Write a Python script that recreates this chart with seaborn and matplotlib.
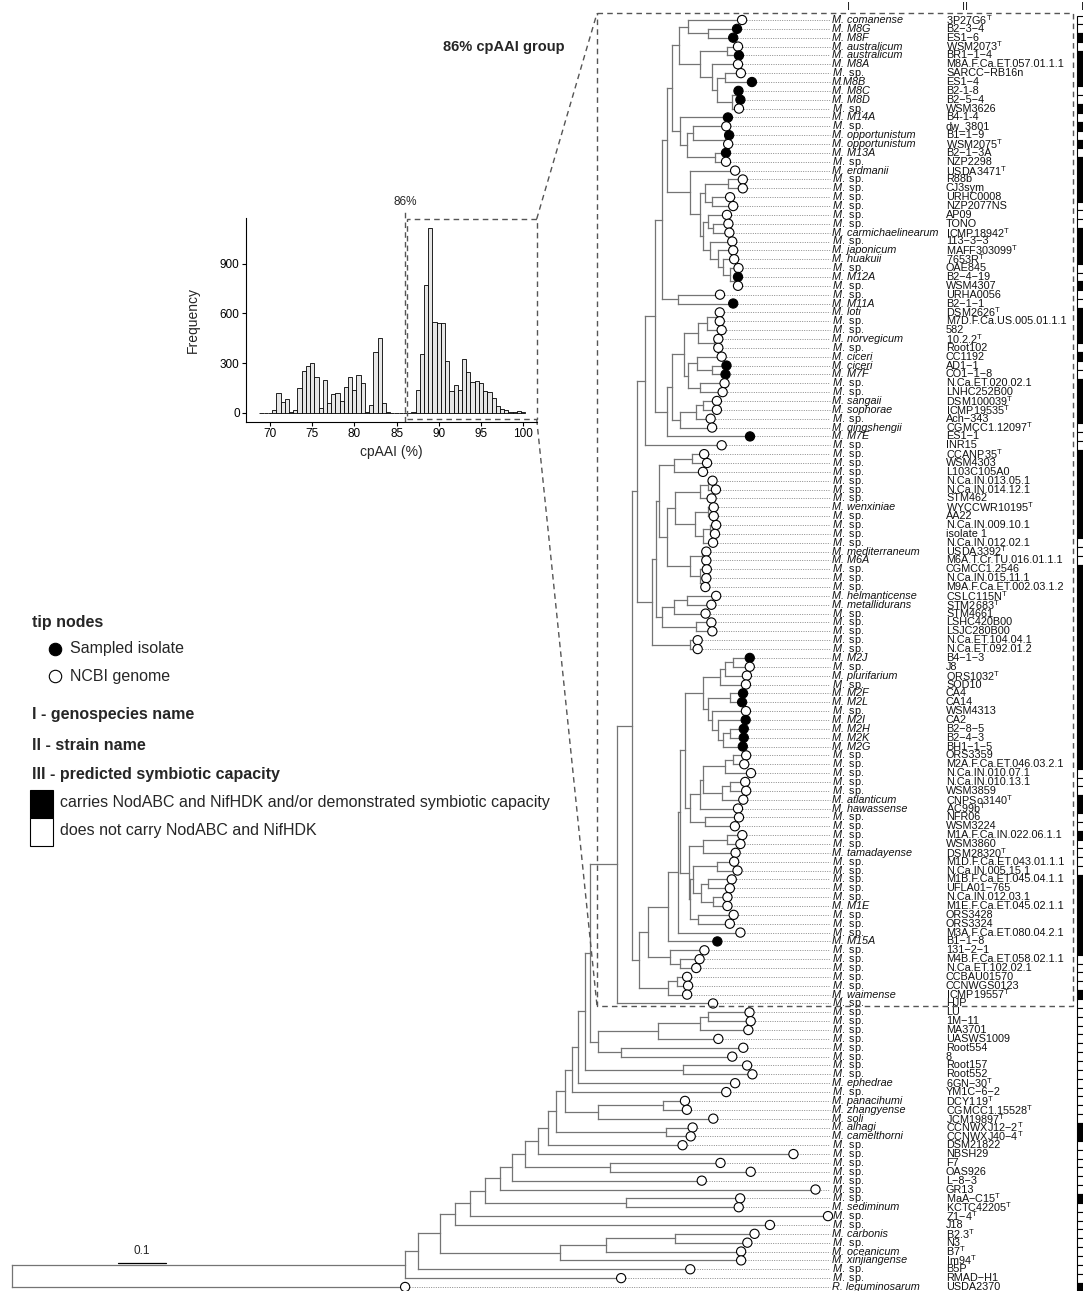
import matplotlib
matplotlib.use("Agg")
import numpy as np
import pandas as pd
import matplotlib.pyplot as plt
from matplotlib.collections import LineCollection
from matplotlib.patches import Rectangle
import seaborn as sns

sns.set_theme(style="white")
plt.rcParams["font.family"] = ["Liberation Sans", "DejaVu Sans"]
plt.rcParams.update({
    "mathtext.fontset": "custom",
    "mathtext.rm": "Liberation Sans",
    "mathtext.it": "Liberation Sans:italic",
    "mathtext.bf": "Liberation Sans:bold",
})

# ---------------------------------------------------------------- tip data
genospecies = [
    "M. comanense", "M. M8G", "M. M8F", "M. australicum", "M. australicum",
    "M. M8A", "M. sp.", "M.M8B", "M. M8C", "M. M8D",
    "M. sp.", "M. M14A", "M. sp.", "M. opportunistum", "M. opportunistum",
    "M. M13A", "M. sp.", "M. erdmanii", "M. sp.", "M. sp.",
    "M. sp.", "M. sp.", "M. sp.", "M. sp.", "M. carmichaelinearum",
    "M. sp.", "M. japonicum", "M. huakuii", "M. sp.", "M. M12A",
    "M. sp.", "M. sp.", "M. M11A", "M. loti", "M. sp.",
    "M. sp.", "M. norvegicum", "M. sp.", "M. ciceri", "M. ciceri",
    "M. M7F", "M. sp.", "M. sp.", "M. sangaii", "M. sophorae",
    "M. sp.", "M. qingshengii", "M. M7E", "M. sp.", "M. sp.",
    "M. sp.", "M. sp.", "M. sp.", "M. sp.", "M. sp.",
    "M. wenxiniae", "M. sp.", "M. sp.", "M. sp.", "M. sp.",
    "M. mediterraneum", "M. M6A", "M. sp.", "M. sp.", "M. sp.",
    "M. helmanticense", "M. metallidurans", "M. sp.", "M. sp.", "M. sp.",
    "M. sp.", "M. sp.", "M. M2J", "M. sp.", "M. plurifarium",
    "M. sp.", "M. M2F", "M. M2L", "M. sp.", "M. M2I",
    "M. M2H", "M. M2K", "M. M2G", "M. sp.", "M. sp.",
    "M. sp.", "M. sp.", "M. sp.", "M. atlanticum", "M. hawassense",
    "M. sp.", "M. sp.", "M. sp.", "M. sp.", "M. tamadayense",
    "M. sp.", "M. sp.", "M. sp.", "M. sp.", "M. sp.",
    "M. M1E", "M. sp.", "M. sp.", "M. sp.", "M. M15A",
    "M. sp.", "M. sp.", "M. sp.", "M. sp.", "M. sp.",
    "M. waimense", "M. sp.", "M. sp.", "M. sp.", "M. sp.",
    "M. sp.", "M. sp.", "M. sp.", "M. sp.", "M. sp.",
    "M. ephedrae", "M. sp.", "M. panacihumi", "M. zhangyense", "M. soli",
    "M. alhagi", "M. camelthorni", "M. sp.", "M. sp.", "M. sp.",
    "M. sp.", "M. sp.", "M. sp.", "M. sp.", "M. sediminum",
    "M. sp.", "M. sp.", "M. carbonis", "M. sp.", "M. oceanicum",
    "M. xinjiangense", "M. sp.", "M. sp.", "R. leguminosarum",
]

strain = [
    "3P27G6ᵀ", "B2−3−4", "ES1−6", "WSM2073ᵀ", "BR1−1−4",
    "M8A.F.Ca.ET.057.01.1.1", "SARCC−RB16n", "ES1−4", "B2-1-8", "B2−5−4",
    "WSM3626", "B4-1-4", "dw_3801", "B1−1−9", "WSM2075ᵀ",
    "B2−1−3A", "NZP2298", "USDA3471ᵀ", "R88b", "CJ3sym",
    "URHC0008", "NZP2077NS", "AP09", "TONO", "ICMP18942ᵀ",
    "113−3−3", "MAFF303099ᵀ", "7653Rᵀ", "OAE845", "B2−4−19",
    "WSM4307", "URHA0056", "B2−1−1", "DSM2626ᵀ", "M7D.F.Ca.US.005.01.1.1",
    "582", "10.2.2ᵀ", "Root102", "CC1192", "AD1−1",
    "CO1−1−8", "N.Ca.ET.020.02.1", "LNHC252B00", "DSM100039ᵀ", "ICMP19535ᵀ",
    "Ach−343", "CGMCC1.12097ᵀ", "ES1−1", "INR15", "CCANP35ᵀ",
    "WSM4303", "L103C105A0", "N.Ca.IN.013.05.1", "N.Ca.IN.014.12.1", "STM462",
    "WYCCWR10195ᵀ", "AA22", "N.Ca.IN.009.10.1", "isolate 1", "N.Ca.IN.012.02.1",
    "USDA3392ᵀ", "M6A.T.Cr.TU.016.01.1.1", "CGMCC1.2546", "N.Ca.IN.015.11.1", "M9A.F.Ca.ET.002.03.1.2",
    "CSLC115Nᵀ", "STM2683ᵀ", "STM4661", "LSHC420B00", "LSJC280B00",
    "N.Ca.ET.104.04.1", "N.Ca.ET.092.01.2", "B4−1−3", "J8", "ORS1032ᵀ",
    "SOD10", "CA4", "CA14", "WSM4313", "CA2",
    "B2−8−5", "B2−4−3", "BH1−1−5", "ORS3359", "M2A.F.Ca.ET.046.03.2.1",
    "N.Ca.IN.010.07.1", "N.Ca.IN.010.13.1", "WSM3859", "CNPSo3140ᵀ", "AC99bᵀ",
    "NFR06", "WSM3224", "M1A.F.Ca.IN.022.06.1.1", "WSM3860", "DSM28320ᵀ",
    "M1D.F.Ca.ET.043.01.1.1", "N.Ca.IN.005.15.1", "M1B.F.Ca.ET.045.04.1.1", "UFLA01−765", "N.Ca.IN.012.03.1",
    "M1E.F.Ca.ET.045.02.1.1", "ORS3428", "ORS3324", "M3A.F.Ca.ET.080.04.2.1", "B1−1−8",
    "131−2−1", "M4B.F.Ca.ET.058.02.1.1", "N.Ca.ET.102.02.1", "CCBAU01570", "CCNWGS0123",
    "ICMP19557ᵀ", "HJP", "LU", "1M−11", "MA3701",
    "UASWS1009", "Root554", "8", "Root157", "Root552",
    "6GN−30ᵀ", "YM1C−6−2", "DCY119ᵀ", "CGMCC1.15528ᵀ", "JCM19897ᵀ",
    "CCNWXJ12−2ᵀ", "CCNWXJ40−4ᵀ", "DSM21822", "NBSH29", "F7",
    "OAS926", "L−8−3", "GR13", "MaA−C15ᵀ", "KCTC42205ᵀ",
    "Z1−4ᵀ", "J18", "B2.3ᵀ", "N3", "B7ᵀ",
    "Im94ᵀ", "B5P", "RMAD−H1", "USDA2370",
]

# 1 = isolate sampled in this study, 0 = genome from NCBI
sampled = [
    0, 1, 1, 0, 1, 0, 0, 1, 1, 1,
    0, 1, 0, 1, 0, 1, 0, 0, 0, 0,
    0, 0, 0, 0, 0, 0, 0, 0, 0, 1,
    0, 0, 1, 0, 0, 0, 0, 0, 0, 1,
    1, 0, 0, 0, 0, 0, 0, 1, 0, 0,
    0, 0, 0, 0, 0, 0, 0, 0, 0, 0,
    0, 0, 0, 0, 0, 0, 0, 0, 0, 0,
    0, 0, 1, 0, 0, 0, 1, 1, 0, 1,
    1, 1, 1, 0, 0, 0, 0, 0, 0, 0,
    0, 0, 0, 0, 0, 0, 0, 0, 0, 0,
    0, 0, 0, 0, 1, 0, 0, 0, 0, 0,
    0, 0, 0, 0, 0, 0, 0, 0, 0, 0,
    0, 0, 0, 0, 0, 0, 0, 0, 0, 0,
    0, 0, 0, 0, 0, 0, 0, 0, 0, 0,
    0, 0, 0, 0,
]

# 1 = carries NodABC and NifHDK and/or demonstrated symbiosis
symbiotic = [
    0, 0, 1, 0, 1, 1, 1, 1, 0, 0,
    1, 0, 1, 0, 1, 0, 1, 1, 1, 1,
    1, 0, 0, 0, 1, 1, 1, 1, 0, 0,
    1, 0, 0, 1, 1, 1, 1, 0, 1, 0,
    0, 1, 1, 1, 1, 1, 0, 0, 0, 1,
    1, 1, 1, 1, 1, 1, 1, 1, 1, 0,
    0, 0, 1, 1, 1, 1, 1, 1, 1, 1,
    1, 1, 1, 1, 1, 1, 1, 1, 1, 1,
    1, 1, 1, 1, 1, 0, 0, 0, 1, 1,
    0, 0, 1, 0, 0, 0, 0, 1, 1, 1,
    1, 1, 1, 1, 1, 1, 0, 0, 0, 0,
    1, 0, 0, 0, 0, 0, 0, 0, 0, 0,
    0, 0, 0, 0, 0, 1, 1, 0, 0, 0,
    0, 0, 0, 1, 0, 0, 0, 0, 0, 0,
    0, 0, 0, 1,
]

# ---------------------------------------------------------------- tree
# internal node -> ordered children with branch lengths (substitutions/site);
# integer children are tips, numbered as in the lists above
tree = {
    "root": [("MESO", 0.819), (144, 0.819)],
    "MESO": [("A1", 0.027), (143, 0.450)],
    "A1": [("A2", 0.046), (142, 0.567)],
    "A2": [("A3", 0.031), ("XO", 0.250)],
    "XO": [("CNO", 0.096), (141, 0.377)],
    "CNO": [("CN", 0.144), (140, 0.281)],
    "CN": [(138, 0.165), (139, 0.150)],
    "A3": [("A4", 0.031), (137, 0.656)],
    "A4": [("A5", 0.031), (136, 0.746)],
    "A5": [("A6", 0.031), ("MS", 0.294)],
    "MS": [(134, 0.238), (135, 0.235)],
    "A6": [("A7", 0.025), (133, 0.658)],
    "A7": [("A8", 0.027), (132, 0.396)],
    "A8": [("A9", 0.027), ("FO", 0.177)],
    "FO": [(130, 0.231), (131, 0.294)],
    "A9": [("A10", 0.021), (129, 0.533)],
    "A10": [("A11", 0.017), (128, 0.281)],
    "A11": [("A12", 0.019), ("AC", 0.229)],
    "AC": [(126, 0.056), (127, 0.052)],
    "A12": [("A13", 0.015), ("PZS", 0.069)],
    "PZS": [("PZ", 0.135), (125, 0.240)],
    "PZ": [(123, 0.046), (124, 0.050)],
    "A13": [("A14", 0.0125), (122, 0.321)],
    "A14": [("A15", 0.015), (121, 0.327)],
    "A15": [("A16", 0.010), ("RR", 0.204)],
    "RR": [(119, 0.133), (120, 0.144)],
    "A16": [("BOX", 0.056), ("LUG", 0.017)],
    "LUG": [("LUA", 0.125), ("R8", 0.048)],
    "LUA": [("LUB", 0.0875), (116, 0.125)],
    "LUB": [("LU1", 0.015), (115, 0.100)],
    "LU1": [(113, 0.0875), (114, 0.090)],
    "R8": [(117, 0.254), (118, 0.231)],
    "BOX": [("B1", 0.031), (112, 0.200)],
    "B1": [("B2", 0.010), ("B3", 0.015)],
    "B2": [("T1", 0.017), ("T2", 0.031)],
    "T1": [("T1a", 0.021), (49, 0.160)],
    "T1a": [("U1", 0.015), ("U2", 0.025)],
    "U1": [("U1a", 0.010), ("UM", 0.033)],
    "UM": [(32, 0.0875), (33, 0.115)],
    "U1a": [("G12", 0.010), ("G3", 0.048)],
    "G12": [("G1", 0.015), ("G2", 0.017)],
    "G1": [("G1a", 0.019), ("G1b", 0.044)],
    "G1a": [(1, 0.1125), ("M8GF", 0.042)],
    "M8GF": [(2, 0.060), (3, 0.052)],
    "G1b": [("AUS", 0.056), ("G1c", 0.025)],
    "AUS": [(4, 0.023), (5, 0.025)],
    "G1c": [(6, 0.054), ("G1d", 0.010)],
    "G1d": [("SB", 0.017), ("G1e", 0.031)],
    "SB": [(7, 0.033), (8, 0.056)],
    "G1e": [("CD", 0.010), (11, 0.015)],
    "CD": [(9, 0.004), (10, 0.008)],
    "G2": [(12, 0.100), ("G2a", 0.015)],
    "G2a": [("G2b", 0.0125), ("G2c", 0.058)],
    "G2b": [(13, 0.069), ("OPP", 0.067)],
    "OPP": [(14, 0.008), (15, 0.006)],
    "G2c": [(16, 0.023), (17, 0.023)],
    "G3": [(18, 0.094), ("G3b", 0.021)],
    "G3b": [("G3d", 0.010), ("G3c", 0.006)],
    "G3d": [("RC", 0.048), ("UN", 0.015)],
    "RC": [(19, 0.031), (20, 0.031)],
    "UN": [(21, 0.0375), (22, 0.044)],
    "G3c": [("ATC", 0.010), ("JH", 0.015)],
    "ATC": [(23, 0.040), ("TC", 0.010)],
    "TC": [(24, 0.033), (25, 0.035)],
    "JH": [(26, 0.046), ("JH1", 0.017)],
    "JH1": [(27, 0.031), ("JH2", 0.010)],
    "JH2": [(28, 0.023), ("JH3", 0.015)],
    "JH3": [(29, 0.017), ("MW", 0.010)],
    "MW": [(30, 0.006), (31, 0.006)],
    "U2": [("U2a", 0.010), (48, 0.173)],
    "U2a": [("U2b", 0.025), ("U2c", 0.017)],
    "U2b": [("U2d", 0.029), ("U2e", 0.008)],
    "U2d": [("X1", 0.019), ("X2", 0.035)],
    "X1": [("LM", 0.021), (36, 0.031)],
    "LM": [(34, 0.006), (35, 0.006)],
    "X2": [(37, 0.008), (38, 0.008)],
    "U2e": [("CIC", 0.019), ("EL", 0.025)],
    "CIC": [(39, 0.052), ("AM", 0.031)],
    "AM": [(40, 0.031), (41, 0.029)],
    "EL": [(42, 0.052), (43, 0.048)],
    "U2c": [("Y", 0.033), (47, 0.067)],
    "Y": [("SS", 0.015), (46, 0.031)],
    "SS": [(44, 0.029), (45, 0.029)],
    "T2": [("T2a", 0.010), ("ETP", 0.079)],
    "ETP": [(71, 0.017), (72, 0.017)],
    "T2a": [("T2b", 0.006), ("T2c", 0.0125)],
    "T2b": [("CWL", 0.031), ("T2d", 0.017)],
    "CWL": [("CW", 0.0375), (52, 0.060)],
    "CW": [(50, 0.025), (51, 0.031)],
    "T2d": [("T2e", 0.015), ("T2f", 0.046)],
    "T2e": [("Z1", 0.052), ("Z2", 0.042)],
    "Z1": [("NN", 0.017), (55, 0.025)],
    "NN": [(53, 0.010), (54, 0.017)],
    "Z2": [("WA", 0.027), ("NI", 0.017)],
    "WA": [(56, 0.0125), (57, 0.0125)],
    "NI": [("N9I", 0.015), (60, 0.021)],
    "N9I": [(58, 0.0125), (59, 0.010)],
    "T2f": [("MM", 0.027), ("CNM", 0.021)],
    "MM": [(61, 0.008), (62, 0.008)],
    "CNM": [(63, 0.015), ("NM", 0.010)],
    "NM": [(64, 0.004), (65, 0.002)],
    "T2c": [("HMS", 0.025), ("LL", 0.071)],
    "HMS": [("HM", 0.027), (68, 0.065)],
    "HM": [(66, 0.060), (67, 0.050)],
    "LL": [(69, 0.031), (70, 0.033)],
    "B3": [("B4", 0.019), ("CCG", 0.060)],
    "CCG": [("CC", 0.019), (111, 0.040)],
    "CC": [(109, 0.021), (110, 0.023)],
    "B4": [("B5", 0.042), ("G106", 0.046)],
    "G106": [(106, 0.071), ("ME", 0.021)],
    "ME": [(107, 0.040), (108, 0.033)],
    "B5": [("T3", 0.019), (105, 0.102)],
    "T3": [("T3a", 0.006), (104, 0.131)],
    "T3a": [("T3b", 0.010), ("T3c", 0.017)],
    "T3b": [("T3d", 0.0375), ("T3e", 0.010)],
    "T3d": [("P1", 0.035), ("P2", 0.010)],
    "P1": [("P1a", 0.010), (76, 0.054)],
    "P1a": [("MJ", 0.017), (75, 0.046)],
    "MJ": [(73, 0.035), (74, 0.035)],
    "P2": [("FL", 0.046), ("P3", 0.008)],
    "FL": [(77, 0.027), (78, 0.025)],
    "P3": [(79, 0.071), ("P4", 0.0125)],
    "P4": [(80, 0.058), ("P5", 0.010)],
    "P5": [("HK", 0.015), (83, 0.042)],
    "HK": [(81, 0.029), (82, 0.029)],
    "T3e": [("Q1", 0.021), ("NW", 0.031)],
    "Q1": [("Q2", 0.006), (90, 0.079)],
    "Q2": [("Q3", 0.046), ("Q4", 0.040)],
    "Q3": [("OM", 0.017), (86, 0.054)],
    "OM": [(84, 0.027), (85, 0.023)],
    "Q4": [("NW2", 0.017), (89, 0.044)],
    "NW2": [(87, 0.031), (88, 0.033)],
    "NW": [(91, 0.071), (92, 0.0625)],
    "T3c": [("W1", 0.031), ("W2", 0.004)],
    "W1": [("MW3", 0.050), (95, 0.067)],
    "MW3": [(93, 0.031), (94, 0.027)],
    "W2": [("W3", 0.006), ("OO", 0.015)],
    "W3": [("MN", 0.050), ("W4", 0.015)],
    "MN": [(96, 0.035), (97, 0.042)],
    "W4": [("MU", 0.015), ("NM1", 0.025)],
    "MU": [(98, 0.050), (99, 0.046)],
    "NM1": [(100, 0.031), (101, 0.031)],
    "OO": [(102, 0.075), (103, 0.067)],
}

# ---------------------------------------------------------------- cpAAI histogram
bin_edges = [68.75 + 0.5 * k for k in range(64)]
pair_counts = [
    0, 0, 0, 16, 120, 62, 80, 6, 16, 150,
    250, 285, 302, 217, 28, 195, 56, 116, 120, 72,
    153, 217, 137, 225, 181, 4, 44, 368, 449, 56,
    5, 0, 0, 0, 0, 0, 3, 135, 355, 770,
    1117, 549, 539, 539, 310, 131, 165, 137, 324, 247,
    183, 189, 181, 129, 123, 89, 42, 24, 14, 4,
    4, 8, 3,
]
group_cutoff = 86

# ---------------------------------------------------------------- layout helpers
W, H = 1083, 1291
PX_UNIT = 480.0          # pixels per substitution/site
ROOT_PX = 12.0
ROW0, ROW = 20.0, 8.86   # first tip row and row pitch in pixels


def px_x(px):
    return (px - ROOT_PX) / PX_UNIT


def px_y(py):
    return (py - ROW0) / ROW


node_x, node_y, segments, order = {}, {}, [], []


def place(node, x):
    node_x[node] = x
    if node not in tree:
        node_y[node] = float(len(order))
        order.append(node)
        return node_y[node]
    ys = []
    for child, length in tree[node]:
        cx = x + length
        cy = place(child, cx)
        segments.append([(x, cy), (cx, cy)])
        ys.append(cy)
    segments.append([(x, ys[0]), (x, ys[-1])])
    node_y[node] = (ys[0] + ys[-1]) / 2.0
    return node_y[node]


place("root", 0.0)

tips = pd.DataFrame({
    "tip": np.arange(1, len(strain) + 1),
    "genospecies": genospecies,
    "strain": strain,
    "sampled": sampled,
    "symbiotic": symbiotic,
})
tips["x"] = tips["tip"].map(node_x)
tips["y"] = tips["tip"].map(node_y)
tips["source"] = np.where(tips["sampled"] == 1, "Sampled isolate", "NCBI genome")

# ---------------------------------------------------------------- figure
fig = plt.figure(figsize=(W / 100, H / 100), dpi=100)
ax = fig.add_axes([0, 0, 1, 1])
ax.set_facecolor("none")

ax.add_collection(LineCollection(segments, colors="#747474", linewidths=0.9,
                                 capstyle="projecting", zorder=2))

LABEL_X = px_x(832)
STRAIN_X = px_x(946)
ax.hlines(tips["y"], tips["x"], px_x(830), colors="#8a8a8a",
          linestyles=(0, (1.0, 1.4)), linewidth=0.7, zorder=1)

sns.scatterplot(data=tips, x="x", y="y", hue="source",
                palette={"Sampled isolate": "black", "NCBI genome": "white"},
                edgecolor="black", linewidth=0.8, s=44, legend=False,
                ax=ax, zorder=4)


def species_text(name):
    genus, _, epithet = name.partition(" ")
    if epithet == "sp.":
        return r"$\mathit{" + genus + r"}$ sp.", "normal"
    return name, "italic"


def strain_text(s):
    return s.replace("ᵀ", r"$^{\mathrm{T}}$")


TIP_FS = 7.8
for _, r in tips.iterrows():
    label, style = species_text(r["genospecies"])
    ax.text(LABEL_X, r["y"], label, fontsize=TIP_FS, style=style,
            ha="left", va="center", color="#111111")
    ax.text(STRAIN_X, r["y"], strain_text(r["strain"]), fontsize=TIP_FS,
            ha="left", va="center", color="#111111")

# column III: predicted symbiotic capacity
cell_colors = np.where(tips["symbiotic"] == 1, "black", "white")
ax.barh(tips["y"], 0.06, left=px_x(1077), height=1.0, color=cell_colors,
        edgecolor="black", linewidth=0.8, zorder=3)

for txt, px in [("I", 848), ("II", 965), ("III", 1086)]:
    ax.text(px_x(px), px_y(7), txt, fontsize=8, ha="center", va="center")

# scale bar
sb_y = px_y(1263)
ax.plot([px_x(118), px_x(118) + 0.1], [sb_y, sb_y], color="black", lw=0.9)
ax.text(px_x(118) + 0.05, px_y(1251), "0.1", fontsize=8.5, ha="center", va="center")

ax.set_xlim(px_x(0), px_x(W))
ax.set_ylim(px_y(H), px_y(0))
ax.axis("off")

# ---------------------------------------------------------------- annotation layer (pixel space)
ov = fig.add_axes([0, 0, 1, 1], facecolor="none")
ov.set_xlim(0, W)
ov.set_ylim(H, 0)
ov.axis("off")

dash = (0, (4, 3))
dash_col = "#555555"
ov.add_patch(Rectangle((597, 13.3), 1072.7 - 597, 1005.7 - 13.3, fill=False,
                       ls=dash, ec=dash_col, lw=1.0))
ov.plot([536.7, 597], [219, 13.3], ls=dash, color=dash_col, lw=1.0)
ov.plot([536.7, 597], [419.3, 1005.7], ls=dash, color=dash_col, lw=1.0)
ov.text(443, 47, "86% cpAAI group", fontsize=10.5, weight="bold", ha="left", va="center")

ov.text(32, 622, "tip nodes", fontsize=11.5, weight="bold", ha="left", va="center")
ov.scatter([55], [649], s=80, c="black", edgecolors="black", linewidths=0.8)
ov.scatter([55], [676], s=80, c="white", edgecolors="black", linewidths=0.8)
ov.text(70, 649, "Sampled isolate", fontsize=11.5, ha="left", va="center")
ov.text(70, 676, "NCBI genome", fontsize=11.5, ha="left", va="center")
ov.text(32, 714, "I - genospecies name", fontsize=11.5, weight="bold", ha="left", va="center")
ov.text(32, 745, "II - strain name", fontsize=11.5, weight="bold", ha="left", va="center")
ov.text(32, 775, "III - predicted symbiotic capacity", fontsize=11.5, weight="bold",
        ha="left", va="center")
ov.add_patch(Rectangle((30, 790), 23, 27.5, fc="black", ec="black", lw=0.8))
ov.add_patch(Rectangle((30, 817.5), 23, 28, fc="white", ec="black", lw=0.8))
ov.text(60, 803, "carries NodABC and NifHDK and/or demonstrated symbiotic capacity",
        fontsize=11.5, ha="left", va="center")
ov.text(60, 831, "does not carry NodABC and NifHDK", fontsize=11.5, ha="left", va="center")

# ---------------------------------------------------------------- histogram inset
hl, hr, ht, hb = 246, 536.7, 218.3, 421.7
axh = fig.add_axes([hl / W, 1 - hb / H, (hr - hl) / W, (hb - ht) / H], facecolor="none")
hist_df = pd.DataFrame({
    "cpAAI": [(a + b) / 2 for a, b in zip(bin_edges[:-1], bin_edges[1:])],
    "pairs": pair_counts,
})
sns.histplot(data=hist_df, x="cpAAI", weights="pairs", bins=bin_edges, ax=axh,
             color="#e6e6e6", edgecolor="black", linewidth=0.6, alpha=1)
axh.set_xlim(67.16, 101.6)
axh.set_ylim(-54, 1173)
axh.set_xticks([70, 75, 80, 85, 90, 95, 100])
axh.set_yticks([0, 300, 600, 900])
axh.tick_params(labelsize=8.5, length=3, width=0.8, pad=1.5, left=True, bottom=True,
                colors="black")
for side in ["top", "right"]:
    axh.spines[side].set_visible(False)
for side in ["left", "bottom"]:
    axh.spines[side].set_color("black")
    axh.spines[side].set_linewidth(0.8)
axh.set_xlabel("cpAAI (%)", fontsize=10)
axh.set_ylabel("Frequency", fontsize=10)
axh.xaxis.set_label_coords(0.5, (hb - 445) / (hb - ht))
axh.yaxis.set_label_coords((200 - hl) / (hr - hl), 0.5)

axh.plot([group_cutoff, group_cutoff], [-54, 1227], ls=dash, color=dash_col, lw=1.0,
         clip_on=False)
axh.text(group_cutoff, 1272, f"{group_cutoff}%", fontsize=8.5, ha="center", va="center")
axh.add_patch(Rectangle((86.2, -38), 101.6 - 86.2, 1169 + 38, fill=False, ls=dash,
                        ec=dash_col, lw=1.0, clip_on=False))

fig.savefig("out.png", dpi=100)
